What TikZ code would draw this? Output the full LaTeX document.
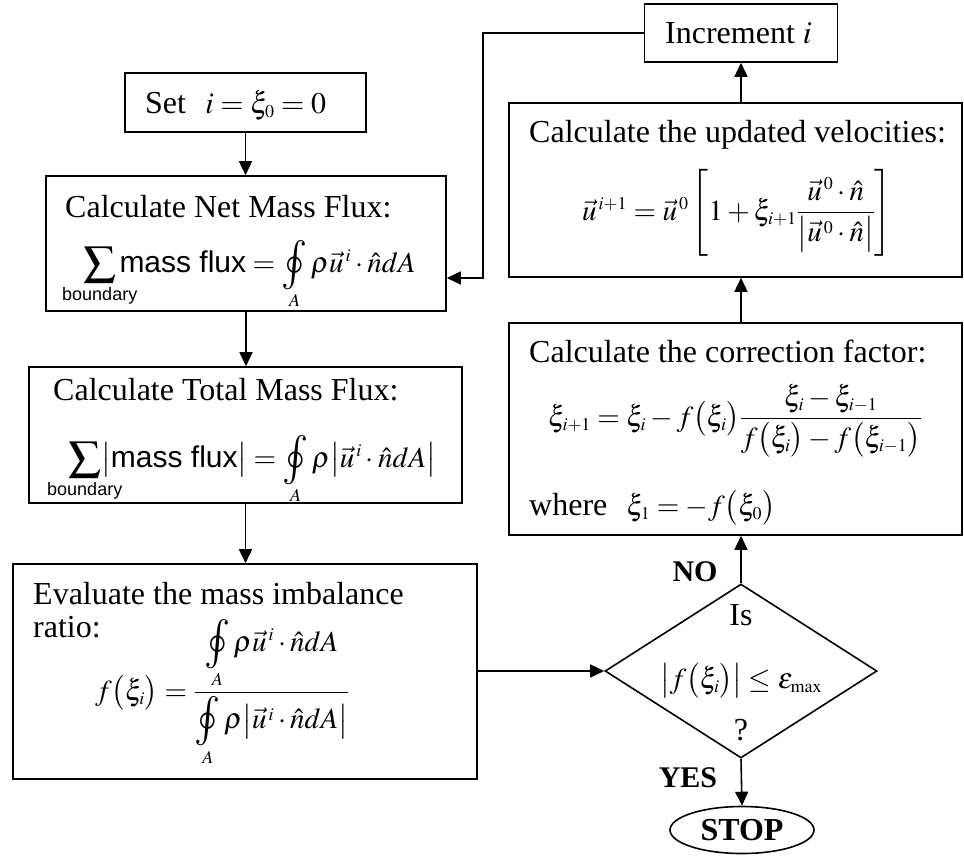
\documentclass[tikz,border=0pt]{standalone}
\usepackage{mathptmx}
\usepackage{amsmath}
\usepackage{graphicx}
\usepackage{fontspec}
\setmainfont{Liberation Serif}
\newfontfamily\arialf{Liberation Sans}
\usetikzlibrary{shapes.geometric,arrows.meta}
\DeclareMathSizes{29}{29}{18}{14}
\DeclareMathSizes{30}{30}{18}{14}
\DeclareMathSizes{32}{32}{19}{15}
\newcommand\bigoint{\mathop{\vcenter{\hbox{\scalebox{1.5}[1.7]{$\oint$}}}}\limits}
\newcommand\bigsum{\mathop{\vcenter{\hbox{\scalebox{1.6}[1.45]{$\sum$}}}}\limits}
\newcommand\bnd{\text{\makebox[0pt]{\arialf\fontsize{18}{20}\selectfont boundary}}}
\newcommand\mflux{\text{\arialf\fontsize{30}{36}\selectfont mass flux}}
\begin{document}
\begin{tikzpicture}[x=1pt,y=-1pt,
  font=\fontsize{32}{38}\selectfont,
  box/.style={draw, rectangle, inner sep=0pt, line width=1.6pt},
  txt/.style={inner sep=0pt, anchor=base west},
  mtxt/.style={inner sep=0pt, anchor=base west, font=\fontsize{29}{35}\selectfont},
  ctxt/.style={inner sep=0pt, anchor=base},
  arr/.style={-{Triangle[length=14pt,width=13pt]}, line width=1.6pt},
  lbl/.style={font=\fontsize{30}{36}\selectfont\bfseries, inner sep=0pt}]
\useasboundingbox (0,0) rectangle (964,855);

% boxes
\node[box, minimum width=241, minimum height=59] (set) at (245.5,102.5) {};
\node[box, minimum width=400, minimum height=135] (net) at (246,243.5) {};
\node[box, minimum width=433, minimum height=136] (total) at (245.5,435) {};
\node[box, minimum width=464, minimum height=215] (eval) at (245,671.5) {};
\node[box, minimum width=193, minimum height=58] (inc) at (741,33) {};
\node[box, minimum width=453, minimum height=174] (vel) at (735.5,190) {};
\node[box, minimum width=453, minimum height=212] (corr) at (735.5,429) {};
\node[draw, diamond, aspect=1.563, minimum width=272, minimum height=174, inner sep=0pt, line width=1.6pt] (dia) at (741,671) {};
\node[draw, ellipse, minimum width=144, minimum height=47, inner sep=0pt, line width=1.6pt, font=\fontsize{32}{38}\selectfont\bfseries] (stop) at (742,830) {STOP};

% texts
\node[txt] (tset) at (145,113) {Set\hspace{0.6em}{\fontsize{30}{36}\selectfont$i=\xi_0=0$}};
\node[txt] (tnet) at (65,217) {Calculate Net Mass Flux:};
\node[mtxt] (enet) at (83,272) {$\bigsum_{\bnd}\mflux=\bigoint_A\rho\vec{u}^{\,i}\cdot\hat{n}dA$};
\node[txt] (ttot) at (53,400) {Calculate Total Mass Flux:};
\node[mtxt] (etot) at (68,467) {$\bigsum_{\bnd}\bigl|\mflux\bigr|=\bigoint_A\rho\bigl|\vec{u}^{\,i}\cdot\hat{n}dA\bigr|$};
\node[txt] (tev1) at (33,604) {Evaluate the mass imbalance};
\node[txt] (tev2) at (33,637) {ratio:};
\node[mtxt] (eev) at (95,700) {$f\bigl(\xi_i\bigr)=\dfrac{\bigoint_A\rho\vec{u}^{\,i}\cdot\hat{n}dA}{\bigoint_A\rho\bigl|\vec{u}^{\,i}\cdot\hat{n}dA\bigr|}$};
\node[txt] (tinc) at (665,43) {Increment $i$};
\node[txt] (tvel) at (529,142) {Calculate the updated velocities:};
\node[mtxt] (evel) at (582,220) {$\vec{u}^{\,i+1}=\vec{u}^{\,0}\left[1+\xi_{i+1}\dfrac{\vec{u}^{\,0}\cdot\hat{n}}{\bigl|\vec{u}^{\,0}\cdot\hat{n}\bigr|}\right]$};
\node[txt] (tcor) at (529,362) {Calculate the correction factor:};
\node[mtxt] (ecor) at (548,426) {$\xi_{i+1}=\xi_i-f\bigl(\xi_i\bigr)\dfrac{\xi_i-\xi_{i-1}}{f\bigl(\xi_i\bigr)-f\bigl(\xi_{i-1}\bigr)}$};
\node[txt] (twh) at (529,515) {where\hspace{0.6em}{\fontsize{29}{35}\selectfont$\xi_1=-f\bigl(\xi_0\bigr)$}};
\node[ctxt] (tis) at (741,625) {Is};
\node[mtxt] (edia) at (660,688) {$\bigl|f\bigl(\xi_i\bigr)\bigr|\le\varepsilon_{\max}$};
\node[ctxt] (tq) at (741,740) {?};

% connectors
\draw[arr] (set.south) -- (set.south |- net.north);
\draw[arr] (net.south) -- (net.south |- total.north);
\draw[arr] (total.south) -- (total.south |- eval.north);
\draw[arr] (eval.east |- dia.west) -- (dia.west);
\draw[arr] (dia.north) -- (dia.north |- corr.south);
\draw[arr] (dia.north |- corr.north) -- (dia.north |- vel.south);
\draw[arr] (dia.north |- vel.north) -- (dia.north |- inc.south);
\coordinate (loopa) at (483,33);
\coordinate (loopb) at (483,278);
\draw[arr] (inc.west) -- (loopa) -- (loopb) -- (loopb -| net.east);
\draw[arr] (dia.south) -- (stop.north);
\node[lbl] (no) at (695,572) {NO};
\node[lbl] (yes) at (688,778) {YES};
\end{tikzpicture}
\end{document}
